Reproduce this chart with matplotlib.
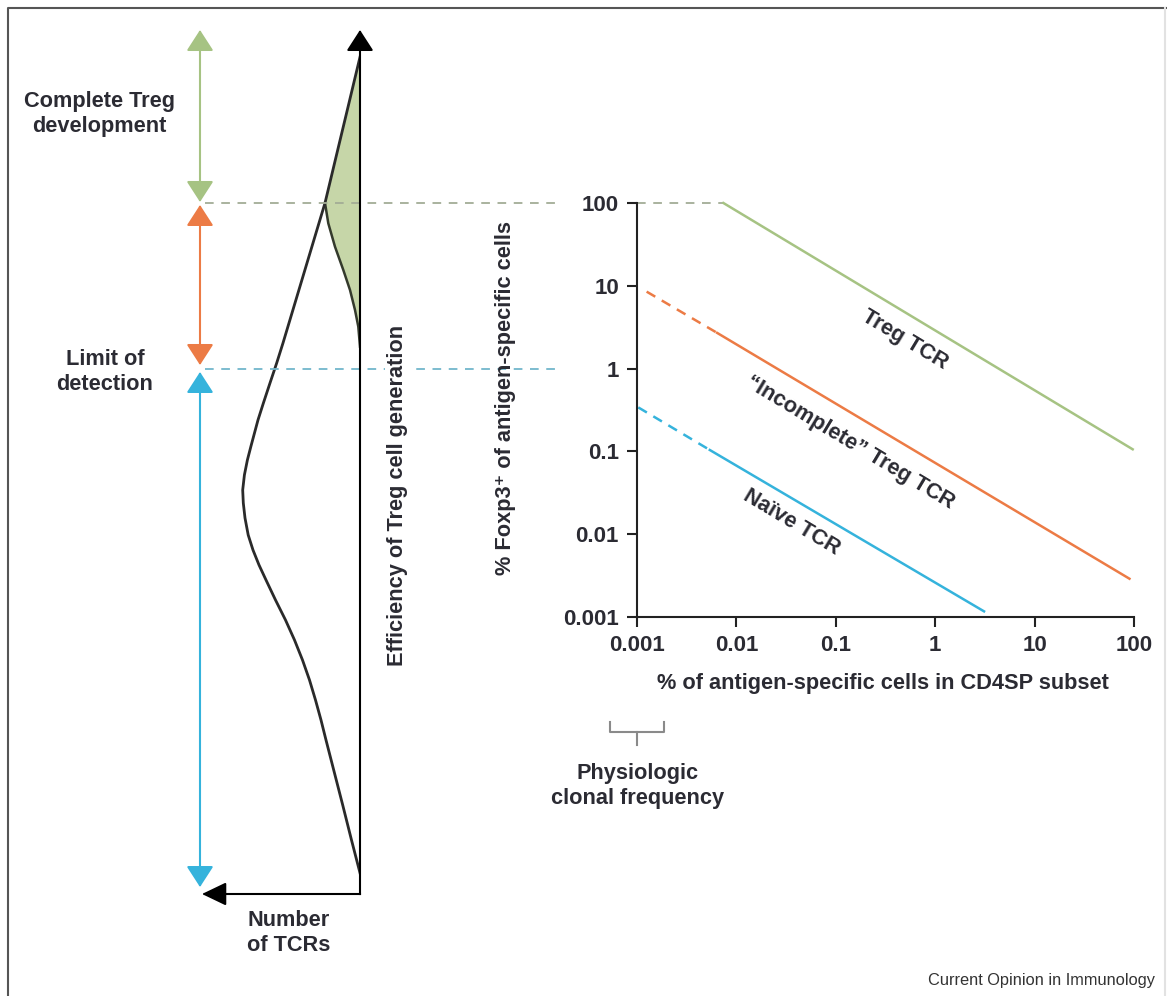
import matplotlib
matplotlib.use("Agg")
import matplotlib.pyplot as plt
from matplotlib import transforms
from matplotlib.lines import Line2D

plt.rcParams['font.family'] = ['Liberation Sans', 'DejaVu Sans']
plt.rcParams['font.weight'] = 'bold'

W, H = 1167, 996

# right panel: % Foxp3+ vs clonal frequency (log-log)
freq_ticks = [0.001, 0.01, 0.1, 1, 10, 100]
freq_labels = ['0.001', '0.01', '0.1', '1', '10', '100']

treg_dash_x = [0.001, 0.0074]
treg_dash_y = [100, 100]
treg_x = [0.0074, 97]
treg_y = [100, 0.106]

incomp_dash_x = [0.00125, 0.0064]
incomp_dash_y = [8.5, 2.7]
incomp_x = [0.0064, 90]
incomp_y = [2.7, 0.0029]

naive_dash_x = [0.00103, 0.0054]
naive_dash_y = [0.34, 0.104]
naive_x = [0.0054, 3.1]
naive_y = [0.104, 0.00117]

# left panel: number of TCRs (arb. units) vs log10 efficiency of Treg generation (%)
tcr_count = [0, 6.7, 12.7, 18.7, 24.7, 30.2, 35, 41, 47, 53, 59, 65, 71, 77, 83.3,
             90, 96.6, 102, 105.5, 109, 112.6, 115.6, 117.3,
             116.7, 115, 111.8, 107, 101, 94, 84.5, 74.5, 65.5, 57.5, 50.5, 44.5,
             39, 34, 26.3, 17.3, 8.5, 0]
tcr_log_eff = [3.759, 3.422, 3.120, 2.819, 2.518, 2.241, 2.000, 1.759, 1.518, 1.277,
               1.036, 0.795, 0.554, 0.313, 0.072, -0.169, -0.410, -0.614, -0.771,
               -0.928, -1.096, -1.277, -1.458,
               -1.614, -1.795, -2.000, -2.181, -2.361, -2.542, -2.783, -3.024, -3.265,
               -3.506, -3.747, -3.988, -4.229, -4.470, -4.831, -5.253, -5.675, -6.072]

# inner edge of the green (complete Treg) area
treg_count = [35, 31.7, 25, 16.7, 10, 5, 1.7, 0]
treg_log_eff = [2.0, 1.755, 1.473, 1.193, 0.952, 0.711, 0.510, 0.269]

green = '#a6c383'
green_fill = '#c6d6a8'
orange = '#ec7b45'
blue = '#35b3dc'
txt = '#2b2b33'
fs = 15.7

fig = plt.figure(figsize=(W / 100, H / 100), dpi=100)

# ---- right panel
ax = fig.add_axes([637 / W, 1 - 617 / H, 497 / W, 414 / H])
ax.set_xscale('log')
ax.set_yscale('log')
ax.plot(treg_dash_x, treg_dash_y, color='#a3ad96', lw=1.3, ls=(0, (4.8, 4.2)), clip_on=False)
ax.plot(treg_x, treg_y, color=green, lw=1.8, clip_on=False)
ax.plot(incomp_dash_x, incomp_dash_y, color=orange, lw=1.8, ls=(0, (4, 3)), clip_on=False)
ax.plot(incomp_x, incomp_y, color=orange, lw=1.8, clip_on=False)
ax.plot(naive_dash_x, naive_dash_y, color=blue, lw=1.8, ls=(0, (4, 3)), clip_on=False)
ax.plot(naive_x, naive_y, color=blue, lw=1.8, clip_on=False)
ax.set_xlim(0.001, 100)
ax.set_ylim(0.001, 100)
ax.set_xticks(freq_ticks, labels=freq_labels)
ax.set_yticks(freq_ticks, labels=freq_labels)
ax.minorticks_off()
ax.tick_params(direction='out', length=7, width=1.5, labelsize=16, pad=6,
               color='#222', labelcolor=txt)
for s in ['top', 'right']:
    ax.spines[s].set_visible(False)
for s in ['left', 'bottom']:
    ax.spines[s].set_linewidth(1.5)
    ax.spines[s].set_color('#222')
ax.patch.set_alpha(0)

lbl = dict(rotation=-31, rotation_mode='anchor', ha='center', va='center',
           fontsize=fs, color=txt)
ax.text(0.49, 2.24, 'Treg TCR', **lbl)
ax.text(0.138, 0.128, '\u201cIncomplete\u201d Treg TCR', **lbl)
ax.text(0.036, 0.014, 'Na\u00efve TCR', **lbl)

# ---- left panel
axl = fig.add_axes([190 / W, 1 - 894 / H, 170 / W, 864 / H])
axl.fill(tcr_count[:7] + treg_count[1:], tcr_log_eff[:7] + treg_log_eff[1:],
         color=green_fill, lw=0)
axl.plot(treg_count, treg_log_eff, color='#343a2c', lw=1.8)
axl.plot(tcr_count, tcr_log_eff, color='#2a2a2a', lw=2.0, solid_joinstyle='round')
axl.set_xlim(170, 0)
axl.set_ylim(-6.325, 4.084)
axl.axis('off')

ymin, ymax = -6.325, 4.084
ap = dict(mutation_scale=20, lw=1.5, shrinkA=0, shrinkB=0, capstyle='projecting')
axl.annotate('', xy=(0, ymax), xytext=(0, ymin), annotation_clip=False,
             arrowprops=dict(arrowstyle='-|>,head_length=0.65,head_width=0.42',
                             color='black', **ap))
axl.annotate('', xy=(158, ymin), xytext=(0, ymin), annotation_clip=False,
             arrowprops=dict(arrowstyle='-|>,head_length=0.75,head_width=0.36',
                             color='black', **ap))

dbl = 'head_length=0.65,head_width=0.42'
axl.annotate('', xy=(160, ymax), xytext=(160, 2.012), annotation_clip=False,
             arrowprops=dict(arrowstyle='<|-|>,' + dbl, color=green, **ap))
axl.annotate('', xy=(160, 1.976), xytext=(160, 0.048), annotation_clip=False,
             arrowprops=dict(arrowstyle='<|-|>,' + dbl, color=orange, **ap))
axl.annotate('', xy=(160, -0.036), xytext=(160, -6.241), annotation_clip=False,
             arrowprops=dict(arrowstyle='<|-|>,' + dbl, color=blue, **ap))

# dashed levels (100 % and 1 %) running across to the right panel
tr = transforms.blended_transform_factory(fig.transFigure, axl.transData)
axl.plot([205 / W, 555 / W], [2, 2], transform=tr, color='#a3ad96', lw=1.3,
         ls=(0, (4.8, 4.2)), clip_on=False)
axl.plot([205 / W, 555 / W], [0, 0], transform=tr, color='#72b6cb', lw=1.3,
         ls=(0, (4.8, 4.2)), clip_on=False)


def fx(px, py):
    return px / W, 1 - py / H


fig.text(*fx(397, 495), 'Efficiency of Treg cell generation', rotation=90,
         ha='center', va='center', fontsize=fs, color=txt,
         bbox=dict(facecolor='white', edgecolor='none', pad=1))
fig.text(*fx(505, 398), '% Foxp3\u207a of antigen-specific cells', rotation=90,
         ha='center', va='center', fontsize=fs, color=txt)
fig.text(*fx(883, 683), '% of antigen-specific cells in CD4SP subset',
         ha='center', va='center', fontsize=fs, color=txt)
fig.text(*fx(99, 114), 'Complete Treg\ndevelopment', ha='center', va='center',
         fontsize=fs, color=txt, linespacing=1.25)
fig.text(*fx(105, 372), 'Limit of\ndetection', ha='center', va='center',
         fontsize=fs, color=txt, linespacing=1.25)
fig.text(*fx(289, 933), 'Number\nof TCRs', ha='center', va='center',
         fontsize=fs, color=txt, linespacing=1.25)
fig.text(*fx(638, 786), 'Physiologic\nclonal frequency', ha='center', va='center',
         fontsize=fs, color=txt, linespacing=1.3)
fig.text(*fx(1155, 980), 'Current Opinion in Immunology', ha='right', va='center',
         fontsize=11.8, fontweight='normal', color='#333333')

# bracket under the x axis
bx = [610, 610, 664, 664]
by = [722, 732, 732, 722]
fig.add_artist(Line2D([p / W for p in bx], [1 - p / H for p in by],
                      transform=fig.transFigure, color='#8a8a8a', lw=1.5))
fig.add_artist(Line2D([637 / W, 637 / W], [1 - 732 / H, 1 - 745 / H],
                      transform=fig.transFigure, color='#8a8a8a', lw=1.5))

# frame
fig.add_artist(Line2D([8 / W, 8 / W, 1], [0, 1 - 8 / H, 1 - 8 / H],
                      transform=fig.transFigure, color='#555555', lw=1.5))
fig.add_artist(Line2D([1165 / W, 1165 / W], [0, 1 - 8 / H],
                      transform=fig.transFigure, color='#e2e2e2', lw=1.5))

fig.savefig('out.png', dpi=100)
